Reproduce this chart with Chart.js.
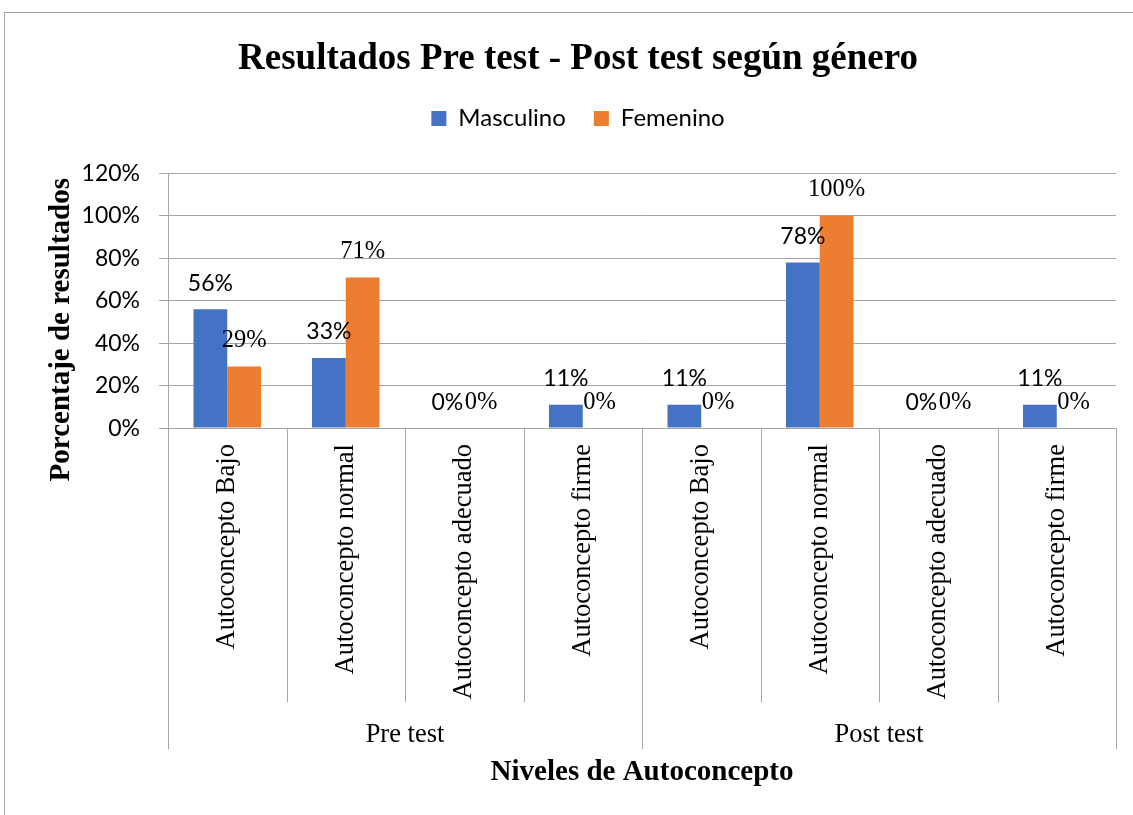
<!DOCTYPE html>
<html>
<head>
<meta charset="utf-8">
<script src="https://cdn.jsdelivr.net/npm/chart.js@4.4.1/dist/chart.umd.min.js"></script>
<style>
  body { margin: 0; background: #fff; overflow: hidden; }
  #frame { position: absolute; left: 4px; top: 12px; width: 1200px; height: 900px; border: 1px solid #a6a6a6; }
  #myChart { position: absolute; left: 0; top: 0; }
</style>
</head>
<body>
<div id="frame"></div>
<canvas id="myChart" width="1133" height="815"></canvas>
<script>
const MY_CHART = document.querySelector("#myChart");

const categories = ["Autoconcepto Bajo", "Autoconcepto normal", "Autoconcepto adecuado", "Autoconcepto firme",
                    "Autoconcepto Bajo", "Autoconcepto normal", "Autoconcepto adecuado", "Autoconcepto firme"];
const groups = ["Pre test", "Post test"];
const masculino = [56, 33, 0, 11, 11, 78, 0, 11];
const femenino = [29, 71, 0, 0, 0, 100, 0, 0];
const Y_MAX = 120;
const Y_STEP = 20;
const Y_TITLE = "Porcentaje de resultados";

const SERIF = '"Liberation Serif", "Times New Roman", serif';
const SANS = 'Lato, "Liberation Sans", sans-serif';
const GRID = "#a6a6a6";

// labels above the bars: first series in sans, second in serif (as in the source)
const valueLabels = {
  id: "valueLabels",
  afterDatasetsDraw(chart) {
    const ctx = chart.ctx;
    const fonts = ["23px " + SANS, "24.5px " + SERIF];
    chart.data.datasets.forEach((ds, i) => {
      const meta = chart.getDatasetMeta(i);
      ctx.save();
      ctx.font = fonts[i];
      ctx.fillStyle = "#000";
      ctx.textAlign = "center";
      ctx.textBaseline = "middle";
      meta.data.forEach((bar, j) => {
        ctx.fillText(ds.data[j] + "%", bar.x, bar.y - 26);
      });
      ctx.restore();
    });
  }
};

// separators between categories and between the two groups
const dividers = {
  id: "dividers",
  afterDraw(chart) {
    const x = chart.scales.x;
    const ctx = chart.ctx;
    const n = categories.length;
    const edges = [x.left];
    for (let i = 0; i < n - 1; i++) {
      edges.push((x.getPixelForValue(i) + x.getPixelForValue(i + 1)) / 2);
    }
    edges.push(x.right);
    ctx.save();
    ctx.strokeStyle = GRID;
    ctx.lineWidth = 1;
    edges.forEach((ex, k) => {
      const major = k === 0 || k === n || k === n / 2;
      const px = Math.round(ex) + 0.5;
      ctx.beginPath();
      ctx.moveTo(px, x.top);
      ctx.lineTo(px, x.top + (major ? 321 : 274));
      ctx.stroke();
    });
    ctx.restore();
  }
};

// y axis title, sits a bit below the middle of the axis like in the source
const yTitle = {
  id: "yTitle",
  afterDraw(chart) {
    const y = chart.scales.y;
    const ctx = chart.ctx;
    ctx.save();
    ctx.translate(62, (y.top + y.bottom) / 2 + 29);
    ctx.rotate(-Math.PI / 2);
    ctx.font = "bold 29px " + SERIF;
    ctx.fillStyle = "#000";
    ctx.textAlign = "center";
    ctx.textBaseline = "middle";
    ctx.fillText(Y_TITLE, 0, 0);
    ctx.restore();
  }
};

// extra room between legend and plot
const legendGap = {
  id: "legendGap",
  beforeInit(chart) {
    const fit = chart.legend.fit;
    chart.legend.fit = function () {
      fit.bind(chart.legend)();
      this.height += 33;
    };
  }
};

const data = {
  labels: categories,
  datasets: [
    { label: "Masculino", data: masculino, backgroundColor: "#4472C4", categoryPercentage: 0.57, barPercentage: 1 },
    { label: "Femenino", data: femenino, backgroundColor: "#ED7D31", categoryPercentage: 0.57, barPercentage: 1 }
  ]
};

const CONFIG = {
  type: "bar",
  data: data,
  options: {
    responsive: false,
    animation: false,
    layout: { padding: { top: 0, left: 40, right: 17, bottom: 25 } },
    plugins: {
      title: {
        display: true,
        text: "Resultados Pre test - Post test según género",
        color: "#000",
        font: { family: SERIF, size: 37, weight: "bold" },
        padding: { top: 37, bottom: -3 }
      },
      legend: {
        display: true,
        position: "top",
        labels: {
          color: "#000",
          font: { family: SANS, size: 24 },
          boxWidth: 15,
          boxHeight: 15,
          padding: 28
        }
      },
      tooltip: { enabled: false }
    },
    scales: {
      x: {
        type: "category",
        weight: 0,
        grid: { display: false },
        border: { display: true, color: GRID },
        ticks: {
          color: "#000",
          font: { family: SERIF, size: 26.5 },
          autoSkip: false,
          minRotation: 90,
          maxRotation: 90,
          padding: 8
        }
      },
      x2: {
        type: "category",
        labels: groups,
        offset: true,
        position: "bottom",
        weight: 1,
        grid: { display: false },
        border: { display: false },
        ticks: { color: "#000", font: { family: SERIF, size: 26.5 }, padding: 4 },
        title: {
          display: true,
          text: "Niveles de Autoconcepto",
          color: "#000",
          font: { family: SERIF, size: 29, weight: "bold" },
          padding: { top: 0, bottom: 0 }
        }
      },
      y: {
        min: 0,
        max: Y_MAX,
        afterFit: scale => { scale.width = 128; },
        grid: { color: GRID, tickLength: 9 },
        border: { display: true, color: GRID },
        ticks: {
          stepSize: Y_STEP,
          color: "#000",
          font: { family: SANS, size: 23 },
          padding: 19,
          callback: v => v + "%"
        },
        title: { display: false }
      }
    }
  },
  plugins: [valueLabels, dividers, yTitle, legendGap]
};

new Chart(MY_CHART, CONFIG);
</script>
</body>
</html>
